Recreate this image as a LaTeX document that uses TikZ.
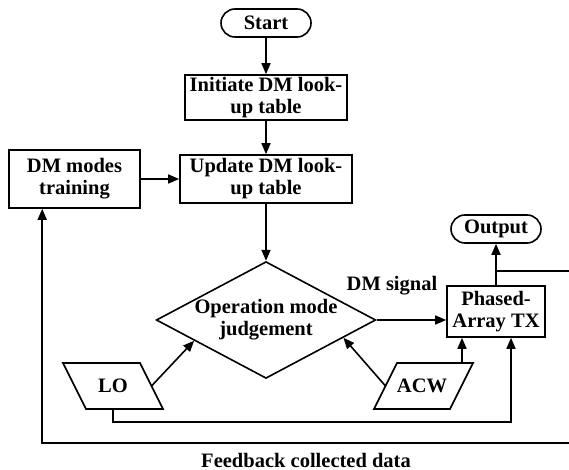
\documentclass[tikz,border=0pt]{standalone}
\usepackage{fontspec}
\setmainfont{Liberation Serif}
\usetikzlibrary{arrows.meta,shapes.geometric,calc}

\begin{document}
\begin{tikzpicture}[x=1pt,y=-1pt,line width=1.6pt,
  every node/.style={font=\fontsize{20.5}{22}\selectfont\bfseries,align=center},
  box/.style={draw,rectangle,inner sep=0pt},
  term/.style={draw,rectangle,rounded corners=14pt,inner sep=0pt,
               minimum width=90pt,minimum height=28pt},
  arr/.style={-{Triangle[length=11pt,width=9pt]}}]
\useasboundingbox (0,0) rectangle (569,470);

% main column
\node[term] (start) at (266,23) {Start};
\node[box,minimum width=162pt,minimum height=45pt] (init) at (266,97.5) {Initiate DM look-\\up table};
\node[box,minimum width=172pt,minimum height=48pt] (update) at (266,179) {Update DM look-\\up table};
\node[box,minimum width=131pt,minimum height=58pt] (dmtrain) at (74.5,179) {DM modes\\training};
\node[draw,diamond,aspect=1.88,minimum width=214pt,minimum height=114pt,inner sep=0pt] (diam) at (266,320) {Operation mode\\judgement};

% transmitter and output
\node[box,minimum width=98pt,minimum height=51pt] (phased) at (496,311.5) {Phased-\\Array TX};
\node[term] (output) at (496,229) {Output};

% input parallelograms
\coordinate (lo-tl) at (63,363);
\coordinate (lo-tr) at (140,363);
\coordinate (lo-br) at (163,409);
\coordinate (lo-bl) at (86,409);
\draw (lo-tl) -- (lo-tr) -- (lo-br) -- (lo-bl) -- cycle;
\node (lo) at (113,386) {LO};

\coordinate (acw-tl) at (397,363);
\coordinate (acw-tr) at (473,363);
\coordinate (acw-br) at (450,409);
\coordinate (acw-bl) at (374,409);
\draw (acw-tl) -- (acw-tr) -- (acw-br) -- (acw-bl) -- cycle;
\node (acw) at (422,386) {ACW};

% labels
\node (dmsig) at (392,286) {DM signal};
\node (fb) at (306,460) {Feedback collected data};

% edge points at the right border
\coordinate (edge1) at (569,271);
\coordinate (edge2) at (569,443);
\coordinate (acw-up) at (462,363);

% connectors
\draw[arr] (start) -- (init);
\draw[arr] (init) -- (update);
\draw[arr] (update) -- (diam);
\draw[arr] (dmtrain.east) -- (dmtrain.east -| update.west);
\draw[arr] (diam.east) -- (diam.east -| phased.west);
\draw[arr] ($(lo-br)!0.5!(lo-tr)$) -- ($(diam.west)!0.35!(diam.south)$);
\draw[arr] ($(acw-bl)!0.5!(acw-tl)$) -- ($(diam.east)!0.3!(diam.south)$);
\draw[arr] (acw-up) -- (acw-up |- phased.south);
\draw[arr] (lo |- lo-bl) -- ++(0,13) -| ($(phased.south)+(15,0)$);
\draw[arr] (phased) -- (output);
\draw (phased.north |- edge1) -- (edge1);
\draw[arr] (edge2) -| ($(dmtrain.south west)+(34,0)$);
\end{tikzpicture}
\end{document}
